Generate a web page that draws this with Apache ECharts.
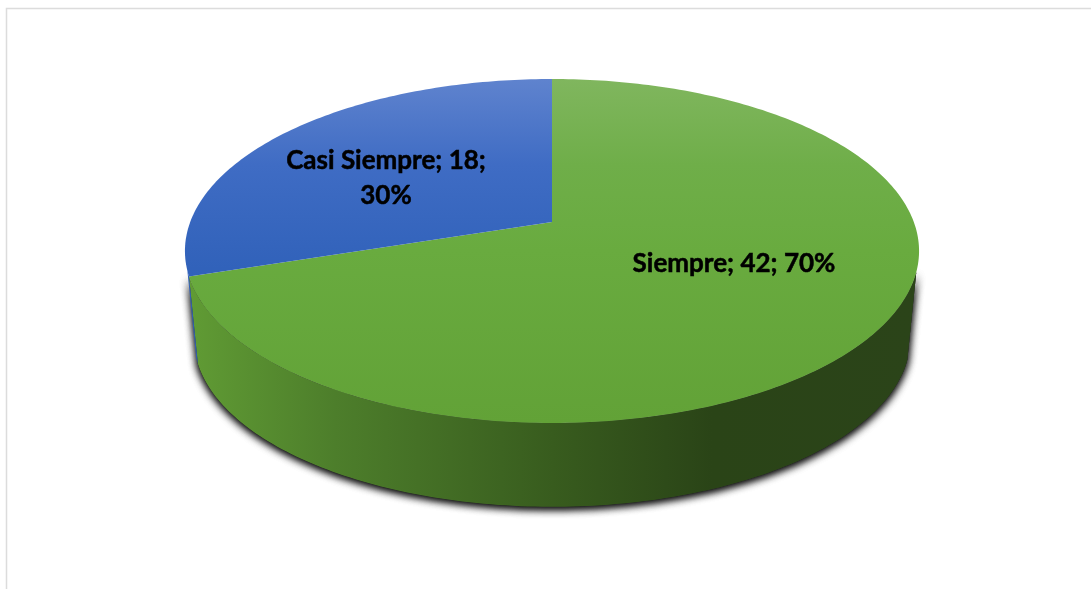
<!DOCTYPE html>
<html>
<head>
<meta charset="utf-8">
<style>html,body{margin:0;padding:0;background:#fff}#c{width:1091px;height:589px}</style>
<script src="https://cdn.jsdelivr.net/npm/echarts@6/dist/echarts.min.js"></script>
</head>
<body>
<div id="c"></div>
<script>
const categories = ['Siempre', 'Casi Siempre'];
const seriesValues = [42, 18];
const percents = [70, 30];

// Perspective disc: top face and the smaller, lower bottom face.
const PIE = { cx: 552, apexY: 222, a: 361.8, c: -129.68, k: 0.1686,
              midY: 251, bottomMidY: 339, bottomScale: 0.9755,
              rimFrom: 106.6, rimTo: 253.9, step: 1 };
const LABELS = [
  { x: 734, y: 264, lineBreak: false },
  { x: 386, y: 178, lineBreak: true }
];
const FONT = 'bold 26px Lato, "Open Sans", sans-serif';

function topPoint(deg) {
  const t = deg * Math.PI / 180, u = Math.sin(t), v = Math.cos(t), w = 1 + PIE.k * v;
  return [PIE.cx + PIE.a * u / w, (PIE.apexY + PIE.c * v) / w];
}
function bottomPoint(deg) {
  const p = topPoint(deg);
  return [PIE.cx + (p[0] - PIE.cx) * PIE.bottomScale,
          PIE.bottomMidY + (p[1] - PIE.midY) * PIE.bottomScale];
}
function arc(fn, from, to) {
  const pts = [], n = Math.max(1, Math.ceil((to - from) / PIE.step));
  for (let i = 0; i <= n; i++) pts.push(fn(from + (to - from) * i / n));
  return pts;
}
function grad(x, y, x2, y2, stops) {
  return { type: 'linear', global: true, x, y, x2, y2,
    colorStops: stops.map(s => ({ offset: s[0], color: s[1] })) };
}
const TOP_FILLS = [
  grad(0, 79, 0, 423, [[0, '#80b65e'], [0.25, '#6fae49'], [0.5, '#69ab3f'], [1, '#62a237']]),
  grad(0, 79, 0, 423, [[0, '#5f83ce'], [0.25, '#3f6cc4'], [0.55, '#3162ba'], [1, '#2c5aa8']])
];
const SIDE_FILLS = [
  grad(190, 0, 915, 0, [[0, '#609b34'], [0.2, '#4d7e2b'], [0.5, '#385c1e'], [0.72, '#2a4417'], [1, '#2b4419']]),
  grad(190, 0, 915, 0, [[0, '#2f5fb5'], [1, '#1f3f78']])
];

const total = seriesValues.reduce((a, b) => a + b, 0);

function renderItem(params, api) {
  const i = params.dataIndex;
  let before = 0;
  for (let j = 0; j < i; j++) before += seriesValues[j];
  const from = before / total * 360;
  const to = from + api.value(1) / total * 360;
  const children = [];

  const rimA = Math.max(from, PIE.rimFrom), rimB = Math.min(to, PIE.rimTo);
  if (rimB > rimA) {
    const side = arc(topPoint, rimA, rimB).concat(arc(bottomPoint, rimA, rimB).reverse());
    if (i === 0) {
      [0, 1].forEach(() => children.push({ type: 'polygon', shape: { points: side },
        style: { fill: '#333', shadowBlur: 9, shadowColor: 'rgba(0,0,0,0.9)', shadowOffsetY: 2 } }));
    }
    children.push({ type: 'polygon', shape: { points: side }, style: { fill: SIDE_FILLS[i] } });
  }
  const top = [[PIE.cx, PIE.apexY]].concat(arc(topPoint, from, to));
  children.push({ type: 'polygon', shape: { points: top }, style: { fill: TOP_FILLS[i] } });

  const sep = LABELS[i].lineBreak ? '\n' : ' ';
  children.push({ type: 'text', z2: 10, style: {
    x: LABELS[i].x, y: LABELS[i].y, align: 'center', verticalAlign: 'middle', lineHeight: 35,
    text: categories[i] + '; ' + api.value(1) + ';' + sep + percents[i] + '%',
    font: FONT, fill: '#000', stroke: '#000', lineWidth: 0.5 } });
  return { type: 'group', children };
}

const chart = echarts.init(document.getElementById('c'), null, { renderer: 'canvas' });
chart.setOption({
  animation: false,
  backgroundColor: '#fff',
  graphic: [{ type: 'rect', silent: true, shape: { x: 6.5, y: 8.5, width: 1300, height: 800 },
              style: { fill: 'none', stroke: '#dcdcdc', lineWidth: 1.5 } }],
  series: [{
    type: 'custom', coordinateSystem: 'none', clip: false, silent: true,
    renderItem,
    data: categories.map((c, i) => [i, seriesValues[i]])
  }]
});
</script>
</body>
</html>
